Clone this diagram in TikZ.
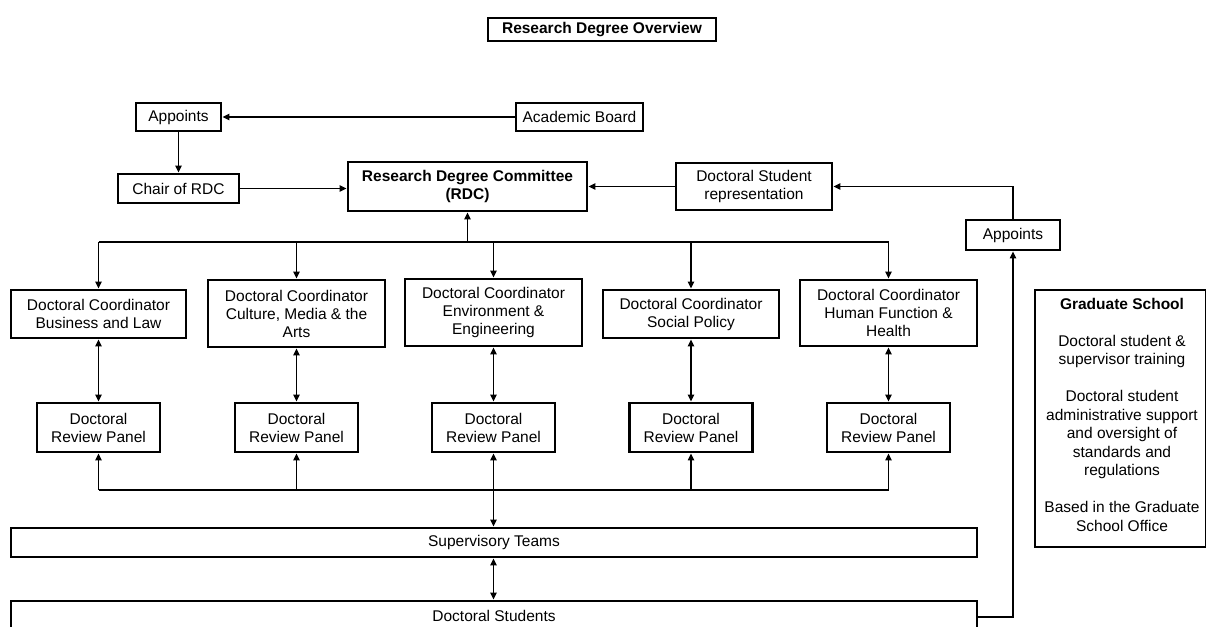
\documentclass[tikz,border=0pt]{standalone}
\usepackage{fontspec}
\setmainfont{Liberation Sans}
\usetikzlibrary{arrows.meta}
\begin{document}
\begin{tikzpicture}[x=1pt,y=-1pt,
  box/.style={draw,line width=2.6pt,rectangle,align=center,inner sep=0pt,font=\fontsize{15.5}{18}\selectfont},
  conn/.style={line width=1.8pt,-{Triangle[length=7pt,width=6pt]}},
  dconn/.style={line width=1.8pt,{Triangle[length=7pt,width=6pt]}-{Triangle[length=7pt,width=6pt]}},
  line/.style={line width=1.8pt}]
\useasboundingbox (0,0) rectangle (1206,626);
\clip (0,0) rectangle (1206,626);
\node[box,font=\fontsize{15.5}{18}\selectfont\bfseries,minimum width=228pt,minimum height=23pt] (title) at (602,29.5) {Research Degree Overview};
\node[box,minimum width=85pt,minimum height=28pt] (appL) at (178.5,117) {Appoints};
\node[box,minimum width=127pt,minimum height=28pt] (acad) at (579.5,117) {Academic Board};
\node[box,minimum width=121pt,minimum height=29pt] (chair) at (178.5,188.5) {Chair of RDC};
\node[box,font=\fontsize{15.5}{18}\selectfont\bfseries,minimum width=239pt,minimum height=49pt] (rdc) at (467.5,186.5) {Research Degree Committee\\(RDC)};
\node[box,minimum width=156pt,minimum height=47pt] (dsr) at (754,186.5) {Doctoral Student\\representation};
\node[box,minimum width=94pt,minimum height=30pt] (appR) at (1013,235) {Appoints};
\node[box,minimum width=175pt,minimum height=48pt] (c1) at (98.5,314) {Doctoral Coordinator\\Business and Law};
\node[box,minimum width=177pt,minimum height=67pt] (c2) at (296.5,313.5) {Doctoral Coordinator\\Culture, Media \& the\\Arts};
\node[box,minimum width=177pt,minimum height=67pt] (c3) at (493.5,312.5) {Doctoral Coordinator\\Environment \&\\Engineering};
\node[box,minimum width=176pt,minimum height=48pt] (c4) at (691,314) {Doctoral Coordinator\\Social Policy};
\node[box,minimum width=177pt,minimum height=66pt] (c5) at (888.5,313) {Doctoral Coordinator\\Human Function \&\\Health};
\foreach \i/\x in {1/98.5,2/296.5,3/493.5,4/691,5/888.5}{
  \node[box,minimum width=123pt,minimum height=49pt] (p\i) at (\x,427.5) {Doctoral\\Review Panel};
}
\node[box,minimum width=966pt,minimum height=29pt] (sup) at (494,542.5) {Supervisory Teams};
\node[box,minimum width=966pt,minimum height=50pt] (stu) at (494,626) {};
\node[font=\fontsize{15.5}{18}\selectfont] (stut) at (494,616) {Doctoral Students};
\node[box,minimum width=171pt,minimum height=257pt] (grad) at (1120.5,418.5) {};
\node[align=center,font=\fontsize{15.5}{18.5}\selectfont,anchor=north] (gradt) at (1122,295) {\textbf{Graduate School}\\[18pt]Doctoral student \&\\supervisor training\\[18.5pt]Doctoral student\\administrative support\\and oversight of\\standards and\\regulations\\[18.5pt]Based in the Graduate\\School Office};
% top connectors
\draw[conn] (acad.west) -- (appL.east);
\draw[conn] (appL.south) -- (chair.north);
\draw[conn] (chair.east) -- (chair.east -| rdc.west);
\draw[conn] (dsr.west) -- (rdc.east);
\draw[conn] (appR.north) |- (dsr.east);
\coordinate (bend) at (1013,617);
\coordinate (stuR) at (977,617);
\draw[conn] (stuR) -- (bend) -- (appR.south);
% bus to coordinators
\coordinate (busT) at (467.5,242);
\draw[conn] (busT) -- (rdc.south);
\draw[line] (98.5,242) -- (888.5,242);
\foreach \i in {1,...,5}{
  \draw[conn] (c\i.north |- busT) -- (c\i.north);
  \draw[dconn] (c\i.south) -- (p\i.north);
}
% bottom bus
\coordinate (busB) at (493.5,490);
\draw[line] (p1.south |- busB) -- (p5.south |- busB);
\foreach \i in {1,2,4,5}{
  \draw[conn] (p\i.south |- busB) -- (p\i.south);
}
\draw[dconn] (p3.south) -- (p3.south |- sup.north);
\draw[dconn] (p3.south |- sup.south) -- (p3.south |- stu.north);
\end{tikzpicture}
\end{document}
